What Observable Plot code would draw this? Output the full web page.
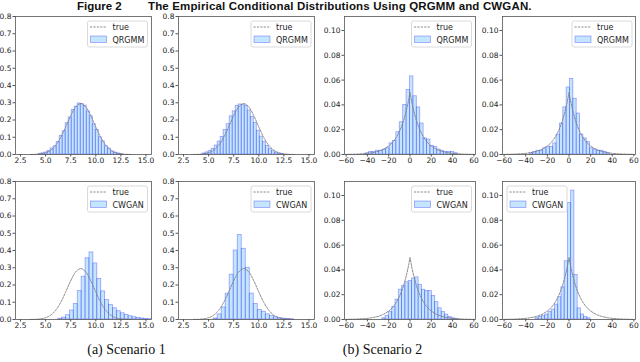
<!DOCTYPE html>
<html><head><meta charset="utf-8">
<script src="https://cdn.jsdelivr.net/npm/d3@7"></script>
<script src="https://cdn.jsdelivr.net/npm/@observablehq/plot@0.6"></script>
<style>
body{margin:0;background:#fff;}
#fig{position:relative;width:640px;height:362px;overflow:hidden;background:#fff;}
#fig .panel{position:absolute;}
#overlay{position:absolute;left:0;top:0;}
</style></head><body><div id="fig"></div>
<script>
// ---------- data ----------
const figLabel = "Figure 2";
const figTitle = "The Empirical Conditional Distributions Using QRGMM and CWGAN.";
const captions = ["(a) Scenario 1", "(b) Scenario 2"];
const seriesNames = ["true", "QRGMM", "CWGAN"];

const s1XTicks = [2.5, 5.0, 7.5, 10.0, 12.5, 15.0];
const s1YTicks = [0, 0.1, 0.2, 0.3, 0.4, 0.5, 0.6, 0.7, 0.8];
const s2XTicks = [-60, -40, -20, 0, 20, 40, 60];
const s2YTicks = [0, 0.02, 0.04, 0.06, 0.08, 0.10];

// true densities
const s1TrueX = [3.5, 4, 4.5, 5, 5.5, 6, 6.5, 7, 7.5, 8, 8.5, 9, 9.5, 10, 10.5, 11, 11.5, 12, 12.5, 13, 13.5];
const s1TrueY = [0.0003, 0.0011, 0.0037, 0.0103, 0.025, 0.0532, 0.0986, 0.1594, 0.2246, 0.2759, 0.2955, 0.2759, 0.2246, 0.1594, 0.0986, 0.0532, 0.025, 0.0103, 0.0037, 0.0011, 0.0003];
const s2TrueX = [-60, -50, -40, -35, -30, -25, -20, -17.5, -15, -12.5, -10, -8, -6, -4, -2, -1, 0, 1, 2, 4, 6, 8, 10, 12.5, 15, 17.5, 20, 25, 30, 35, 40, 50, 60];
const s2TrueY = [0.0001, 0.0003, 0.0009, 0.0015, 0.0025, 0.0041, 0.0068, 0.0087, 0.0112, 0.0143, 0.0184, 0.0225, 0.0274, 0.0335, 0.0409, 0.0452, 0.05, 0.0452, 0.0409, 0.0335, 0.0274, 0.0225, 0.0184, 0.0143, 0.0112, 0.0087, 0.0068, 0.0041, 0.0025, 0.0015, 0.0009, 0.0003, 0.0001];

// histograms: first bin edge, bin width, bar heights
const qrgmmS1aStart = 4.3, qrgmmS1aWidth = 0.3;
const qrgmmS1aHeights = [0.004, 0.007, 0.012, 0.021, 0.035, 0.048, 0.072, 0.108, 0.135, 0.182, 0.215, 0.258, 0.278, 0.296, 0.292, 0.283, 0.25, 0.222, 0.175, 0.143, 0.1, 0.076, 0.048, 0.034, 0.018, 0.011, 0.006, 0.003];
const qrgmmS1bStart = 4.4, qrgmmS1bWidth = 0.3;
const qrgmmS1bHeights = [0.006, 0.012, 0.02, 0.033, 0.052, 0.075, 0.102, 0.142, 0.176, 0.221, 0.25, 0.282, 0.29, 0.288, 0.282, 0.255, 0.218, 0.183, 0.138, 0.104, 0.073, 0.05, 0.031, 0.019, 0.01, 0.005, 0.003];
const qrgmmS2aStart = -41.6, qrgmmS2aWidth = 3.2;
const qrgmmS2aHeights = [0.001, 0.002, 0.002, 0.003, 0.003, 0.004, 0.005, 0.009, 0.011, 0.018, 0.026, 0.040, 0.052, 0.063, 0.047, 0.038, 0.025, 0.013, 0.012, 0.007, 0.006, 0.004, 0.003, 0.002, 0.002, 0.002, 0.001];
const qrgmmS2bStart = -36.3, qrgmmS2bWidth = 3.1;
const qrgmmS2bHeights = [0.001, 0.002, 0.003, 0.003, 0.005, 0.006, 0.006, 0.009, 0.016, 0.025, 0.038, 0.054, 0.061, 0.045, 0.033, 0.016, 0.013, 0.010, 0.005, 0.004, 0.003, 0.003, 0.002, 0.001];
const cwganS1aStart = 6.25, cwganS1aWidth = 0.39;
const cwganS1aHeights = [0.004, 0.011, 0.025, 0.052, 0.09, 0.165, 0.248, 0.355, 0.389, 0.325, 0.235, 0.163, 0.113, 0.085, 0.065, 0.048, 0.036, 0.027, 0.019, 0.013, 0.009, 0.006, 0.003, 0.002];
const cwganS1bStart = 5.5, cwganS1bWidth = 0.4;
const cwganS1bHeights = [0.006, 0.03, 0.07, 0.15, 0.26, 0.40, 0.49, 0.41, 0.30, 0.15, 0.09, 0.055, 0.045, 0.03, 0.02, 0.013, 0.008, 0.005, 0.003, 0.002];
const cwganS2aStart = -26, cwganS2aWidth = 3.1;
const cwganS2aHeights = [0.001, 0.003, 0.006, 0.010, 0.016, 0.024, 0.027, 0.030, 0.031, 0.033, 0.034, 0.028, 0.024, 0.023, 0.023, 0.019, 0.014, 0.009, 0.006, 0.004, 0.002, 0.001, 0.0005];
const cwganS2bStart = -31, cwganS2bWidth = 3;
const cwganS2bHeights = [0.001, 0.002, 0.003, 0.004, 0.006, 0.008, 0.012, 0.018, 0.026, 0.047, 0.094, 0.104, 0.036, 0.009, 0.004, 0.002, 0.001];

// ---------- layout ----------
const s1 = {xDomain: [2.0, 15.55], yDomain: [0, 0.8], xTicks: s1XTicks, yTicks: s1YTicks, xFmt: ".1f", yFmt: ".1f", trueX: s1TrueX, trueY: s1TrueY, curve: "catmull-rom"};
const s2 = {xDomain: [-61.5, 61.5], yDomain: [0, 0.1113], xTicks: s2XTicks, yTicks: s2YTicks, xFmt: "d", yFmt: ".2f", trueX: s2TrueX, trueY: s2TrueY, curve: "linear"};

const panels = [
  {sc: s1, start: qrgmmS1aStart, width: qrgmmS1aWidth, heights: qrgmmS1aHeights, name: seriesNames[1], l: 14.5, t: 16, w: 136, h: 138, legend: "right"},
  {sc: s1, start: qrgmmS1bStart, width: qrgmmS1bWidth, heights: qrgmmS1bHeights, name: seriesNames[1], l: 178, t: 16, w: 136, h: 138, legend: "right"},
  {sc: s2, start: qrgmmS2aStart, width: qrgmmS2aWidth, heights: qrgmmS2aHeights, name: seriesNames[1], l: 343.5, t: 16, w: 131, h: 138, legend: "right"},
  {sc: s2, start: qrgmmS2bStart, width: qrgmmS2bWidth, heights: qrgmmS2bHeights, name: seriesNames[1], l: 502, t: 16, w: 133, h: 138, legend: "right"},
  {sc: s1, start: cwganS1aStart, width: cwganS1aWidth, heights: cwganS1aHeights, name: seriesNames[2], l: 14.5, t: 181, w: 136, h: 138, legend: "right"},
  {sc: s1, start: cwganS1bStart, width: cwganS1bWidth, heights: cwganS1bHeights, name: seriesNames[2], l: 178, t: 181, w: 136, h: 138, legend: "right"},
  {sc: s2, start: cwganS2aStart, width: cwganS2aWidth, heights: cwganS2aHeights, name: seriesNames[2], l: 343.5, t: 181, w: 131, h: 138, legend: "right"},
  {sc: s2, start: cwganS2bStart, width: cwganS2bWidth, heights: cwganS2bHeights, name: seriesNames[2], l: 502, t: 181, w: 133, h: 138, legend: "left"}
];

const BAR_FILL = "#87cefa", BAR_FILL_OP = 0.5, BAR_STROKE = "#0000ff", BAR_STROKE_OP = 0.35;
const TRUE_STROKE = "#808080", TRUE_DASH = "2.2,1.2";
const AXIS_COLOR = "#555";

const fig = document.getElementById("fig");

for (const p of panels) {
  const bins = p.heights.map((h, k) => ({x1: p.start + k * p.width, x2: p.start + (k + 1) * p.width, y: h}));
  const curve = p.sc.trueX.map((x, k) => ({x, y: p.sc.trueY[k]}));
  const svg = Plot.plot({
    width: p.w, height: p.h,
    marginLeft: 0, marginRight: 0, marginTop: 0, marginBottom: 0,
    style: {background: "none", overflow: "visible", fontFamily: "DejaVu Sans", fontSize: "7.5px", color: "#222"},
    x: {domain: p.sc.xDomain},
    y: {domain: p.sc.yDomain},
    marks: [
      Plot.rect(bins, {x1: "x1", x2: "x2", y1: d => 0, y2: "y", fill: BAR_FILL, fillOpacity: BAR_FILL_OP, stroke: BAR_STROKE, strokeOpacity: BAR_STROKE_OP, strokeWidth: 0.8}),
      Plot.line(curve, {x: "x", y: "y", stroke: TRUE_STROKE, strokeWidth: 0.9, strokeDasharray: TRUE_DASH, curve: p.sc.curve}),
      Plot.frame({stroke: AXIS_COLOR, strokeWidth: 0.8}),
      Plot.axisX(p.sc.xTicks, {tickSize: 2.5, tickPadding: 1, tickFormat: p.sc.xFmt, label: null, stroke: AXIS_COLOR}),
      Plot.axisY(p.sc.yTicks, {tickSize: 2.5, tickPadding: 1.5, tickFormat: p.sc.yFmt, label: null, stroke: AXIS_COLOR})
    ]
  });
  svg.classList.add("panel");
  svg.style.left = p.l + "px";
  svg.style.top = p.t + "px";
  fig.appendChild(svg);
}

// ---------- overlay: title, legends, captions ----------
const ov = d3.select(fig).append("svg").attr("id", "overlay").attr("width", 640).attr("height", 362);

ov.append("text").attr("x", 77).attr("y", 10).attr("font-family", "Liberation Sans, Arial, sans-serif")
  .attr("font-weight", "bold").attr("font-size", 11.5).attr("fill", "#111").text(figLabel);
ov.append("text").attr("x", 148).attr("y", 10).attr("font-family", "Liberation Sans, Arial, sans-serif")
  .attr("font-weight", "bold").attr("font-size", 11.5).attr("letter-spacing", 0.15).attr("fill", "#111").text(figTitle);

ov.append("text").attr("x", 126.5).attr("y", 354).attr("text-anchor", "middle")
  .attr("font-family", "Liberation Serif, serif").attr("font-size", 14).attr("fill", "#111").text(captions[0]);
ov.append("text").attr("x", 382.5).attr("y", 354).attr("text-anchor", "middle")
  .attr("font-family", "Liberation Serif, serif").attr("font-size", 14).attr("fill", "#111").text(captions[1]);

function legend(bx, by, label) {
  const g = ov.append("g").attr("font-family", "DejaVu Sans").attr("font-size", 8).attr("fill", "#222");
  g.append("rect").attr("x", bx).attr("y", by).attr("width", 60).attr("height", 26).attr("rx", 2)
    .attr("fill", "white").attr("fill-opacity", 0.8).attr("stroke", "#d0d0d0").attr("stroke-width", 0.8);
  g.append("line").attr("x1", bx + 2.5).attr("x2", bx + 19).attr("y1", by + 6).attr("y2", by + 6)
    .attr("stroke", TRUE_STROKE).attr("stroke-width", 0.9).attr("stroke-dasharray", TRUE_DASH);
  g.append("text").attr("x", bx + 25).attr("y", by + 9).text(seriesNames[0]);
  g.append("rect").attr("x", bx + 3).attr("y", by + 15).attr("width", 16).attr("height", 6.5)
    .attr("fill", BAR_FILL).attr("fill-opacity", BAR_FILL_OP).attr("stroke", BAR_STROKE).attr("stroke-opacity", BAR_STROKE_OP).attr("stroke-width", 0.8);
  g.append("text").attr("x", bx + 25).attr("y", by + 22).text(label);
}
for (const p of panels) {
  const bx = p.legend === "right" ? p.l + p.w - 63 : p.l + 5;
  legend(bx, p.t + 5, p.name);
}
</script></body></html>
